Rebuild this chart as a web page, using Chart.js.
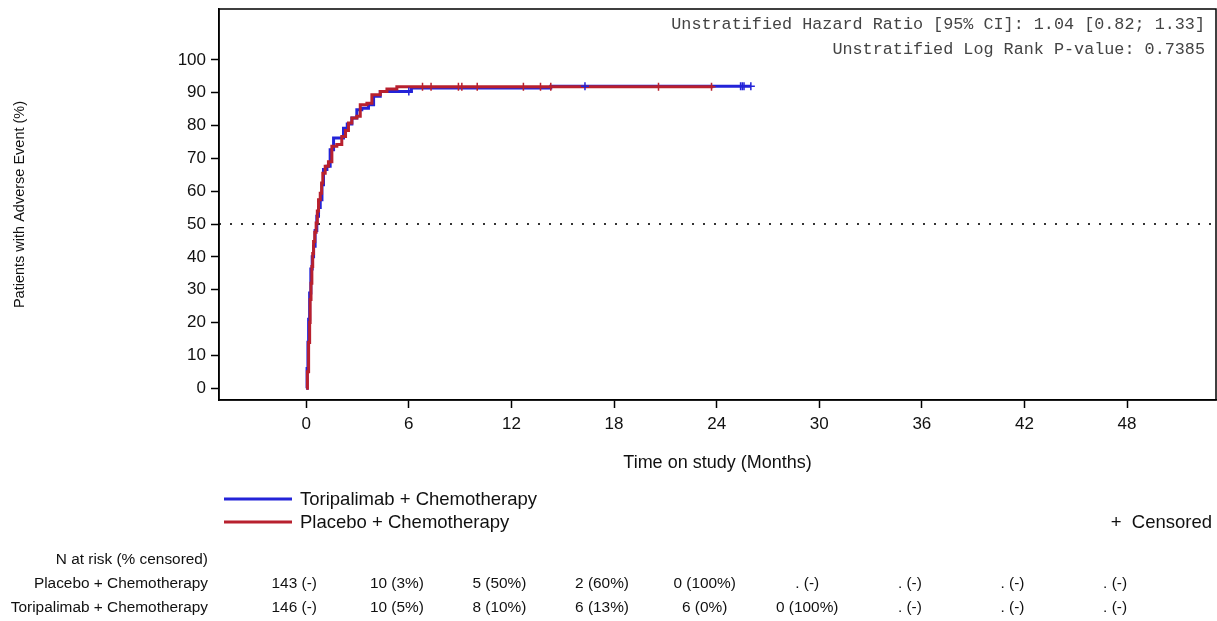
<!DOCTYPE html>
<html lang="en">
<head>
  <meta charset="UTF-8">
  <title>Time to Adverse Event</title>
  <script src="https://cdn.jsdelivr.net/npm/chart.js"></script>
  <style>
    body {
      margin: 0;
      background: #fff;
    }
    #canvas {
      display: block;
    }
  </style>
</head>
<body>
  <canvas id="canvas" width="1217" height="621"></canvas>

  <script>
    // axis ticks
    const xTicks = [0, 6, 12, 18, 24, 30, 36, 42, 48];
    const yTicks = [0, 10, 20, 30, 40, 50, 60, 70, 80, 90, 100];

    // cumulative % with event, Placebo + Chemotherapy
    const placeboTime = [0, 0.07, 0.14, 0.2, 0.23, 0.28, 0.33, 0.38, 0.43, 0.5, 0.58, 0.65, 0.72, 0.82, 0.9, 0.97,
      1.11, 1.3, 1.5, 1.79, 2.08, 2.3, 2.47, 2.67, 2.96, 3.16, 3.55, 3.84, 4.33, 4.72, 5.3, 23.8];
    const placeboPct = [0, 5, 13.9, 20, 27, 32, 37.1, 41, 44.7, 47.5, 50.3, 54, 57.4, 59.4, 62.5, 65.5,
      67.6, 69, 73.7, 74.2, 76.7, 78.5, 80.8, 82.3, 82.8, 86.3, 86.8, 89.4, 90.4, 91.1, 91.8, 91.8];

    // cumulative % with event, Toripalimab + Chemotherapy
    const toriTime = [0, 0.05, 0.1, 0.14, 0.2, 0.27, 0.35, 0.43, 0.52, 0.62, 0.72, 0.82, 0.92, 1.01, 1.21, 1.4,
      1.6, 2.18, 2.4, 2.67, 2.96, 3.25, 3.64, 3.94, 4.33, 6.15, 14.3, 26.0];
    const toriPct = [0, 6, 14, 21, 29, 36.3, 40, 43.2, 48, 52.4, 55, 57.4, 62, 66.6, 67.6, 72.6,
      76.2, 79.2, 80.5, 82.3, 84.8, 85.3, 86.3, 88.9, 90.4, 91.4, 92.0, 92.0];

    // censored observations
    const placeboCensTime = [6.8, 7.3, 8.9, 9.1, 10.0, 12.7, 13.7, 14.3, 20.6, 23.7];
    const placeboCensPct = [91.8, 91.8, 91.8, 91.8, 91.8, 91.8, 91.8, 91.8, 91.8, 91.8];
    const toriCensTime = [6.0, 16.3, 25.4, 25.5, 25.6, 26.0];
    const toriCensPct = [90.4, 92.0, 92.0, 92.0, 92.0, 92.0];

    // number at risk (% censored)
    const riskPlacebo = ["143 (-)", "10 (3%)", "5 (50%)", "2 (60%)", "0 (100%)", ". (-)", ". (-)", ". (-)", ". (-)"];
    const riskTori = ["146 (-)", "10 (5%)", "8 (10%)", "6 (13%)", "6 (0%)", "0 (100%)", ". (-)", ". (-)", ". (-)"];

    const BLUE = "#2323d8";
    const RED = "#b8202e";
    const SANS = "'Liberation Sans', Arial, sans-serif";
    const MONO = "'Liberation Mono', 'Courier New', monospace";

    const pts = (xs, ys) => xs.map((x, i) => ({ x: x, y: ys[i] }));

    const extras = {
      id: "extras",
      afterDraw(chart) {
        const ctx = chart.ctx;
        const a = chart.chartArea;
        const xs = chart.scales.x;
        ctx.save();

        // frame
        ctx.strokeStyle = "#000";
        ctx.lineWidth = 1.5;
        ctx.strokeRect(a.left, a.top, a.right - a.left, a.bottom - a.top);

        // statistics text
        ctx.fillStyle = "#444";
        ctx.font = "16.8px " + MONO;
        ctx.textAlign = "right";
        ctx.textBaseline = "middle";
        ctx.fillText("Unstratified Hazard Ratio [95% CI]: 1.04 [0.82; 1.33]", 1205, 25);
        ctx.fillText("Unstratified Log Rank P-value: 0.7385", 1205, 50);

        // axis titles
        ctx.fillStyle = "#111";
        ctx.textAlign = "center";
        ctx.font = "18px " + SANS;
        ctx.fillText("Time on study (Months)", (a.left + a.right) / 2, 463);
        ctx.save();
        ctx.translate(20, (a.top + a.bottom) / 2);
        ctx.rotate(-Math.PI / 2);
        ctx.font = "14.5px " + SANS;
        ctx.fillText("Patients with Adverse Event (%)", 0, 0);
        ctx.restore();

        // legend
        ctx.lineWidth = 3;
        ctx.strokeStyle = BLUE;
        ctx.beginPath(); ctx.moveTo(224, 499); ctx.lineTo(292, 499); ctx.stroke();
        ctx.strokeStyle = RED;
        ctx.beginPath(); ctx.moveTo(224, 522); ctx.lineTo(292, 522); ctx.stroke();
        ctx.textAlign = "left";
        ctx.font = "18.5px " + SANS;
        ctx.fillText("Toripalimab + Chemotherapy", 300, 500);
        ctx.fillText("Placebo + Chemotherapy", 300, 523);
        ctx.textAlign = "right";
        ctx.fillText("+  Censored", 1212, 523);

        // risk table
        ctx.font = "15.4px " + SANS;
        ctx.fillText("N at risk (% censored)", 208, 560);
        ctx.fillText("Placebo + Chemotherapy", 208, 584);
        ctx.fillText("Toripalimab + Chemotherapy", 208, 608);
        ctx.textAlign = "center";
        xTicks.forEach((t, i) => {
          const px = xs.getPixelForValue(t) - 12;
          ctx.fillText(riskPlacebo[i], px, 584);
          ctx.fillText(riskTori[i], px, 608);
        });
        ctx.restore();
      }
    };

    window.onload = function () {
      const ctx = document.getElementById("canvas").getContext("2d");
      new Chart(ctx, {
        type: "scatter",
        data: {
          datasets: [
            {
              label: "Placebo censored",
              data: pts(placeboCensTime, placeboCensPct),
              pointStyle: "cross",
              pointRadius: 4,
              borderColor: RED,
              borderWidth: 1.5,
              showLine: false,
              order: 0
            },
            {
              label: "Toripalimab censored",
              data: pts(toriCensTime, toriCensPct),
              pointStyle: "cross",
              pointRadius: 4,
              borderColor: BLUE,
              borderWidth: 1.5,
              showLine: false,
              order: 0
            },
            {
              label: "Placebo + Chemotherapy",
              data: pts(placeboTime, placeboPct),
              borderColor: RED,
              borderWidth: 3,
              pointRadius: 0,
              showLine: true,
              stepped: "before",
              order: 1
            },
            {
              label: "Toripalimab + Chemotherapy",
              data: pts(toriTime, toriPct),
              borderColor: BLUE,
              borderWidth: 3,
              pointRadius: 0,
              showLine: true,
              stepped: "before",
              order: 2
            },
            {
              label: "50%",
              data: [{ x: -5.1, y: 50 }, { x: 53.2, y: 50 }],
              borderColor: "#333",
              borderWidth: 2,
              borderDash: [2, 9],
              pointRadius: 0,
              showLine: true,
              order: 3
            }
          ]
        },
        options: {
          responsive: false,
          animation: false,
          layout: { autoPadding: false, padding: { left: 0, top: 9, right: 1, bottom: 0 } },
          plugins: {
            legend: { display: false },
            tooltip: { enabled: false }
          },
          scales: {
            x: {
              type: "linear",
              min: -5.1,
              max: 53.2,
              afterBuildTicks: s => { s.ticks = xTicks.map(v => ({ value: v })); },
              afterFit: s => { s.height = 221; s.paddingLeft = 0; s.paddingRight = 0; },
              grid: { drawOnChartArea: false, tickLength: 8, color: "#000", tickWidth: 1.5 },
              border: { display: true, color: "#000", width: 1.5 },
              ticks: { color: "#111", padding: 6, font: { family: SANS, size: 17 } }
            },
            y: {
              type: "linear",
              min: -3.6,
              max: 115.5,
              afterBuildTicks: s => { s.ticks = yTicks.map(v => ({ value: v })); },
              afterFit: s => { s.width = 219; s.paddingTop = 0; s.paddingBottom = 0; },
              grid: { drawOnChartArea: false, tickLength: 8, color: "#000", tickWidth: 1.5 },
              border: { display: true, color: "#000", width: 1.5 },
              ticks: { color: "#111", padding: 5, font: { family: SANS, size: 17 } }
            }
          }
        },
        plugins: [extras]
      });
    };
  </script>
</body>
</html>
